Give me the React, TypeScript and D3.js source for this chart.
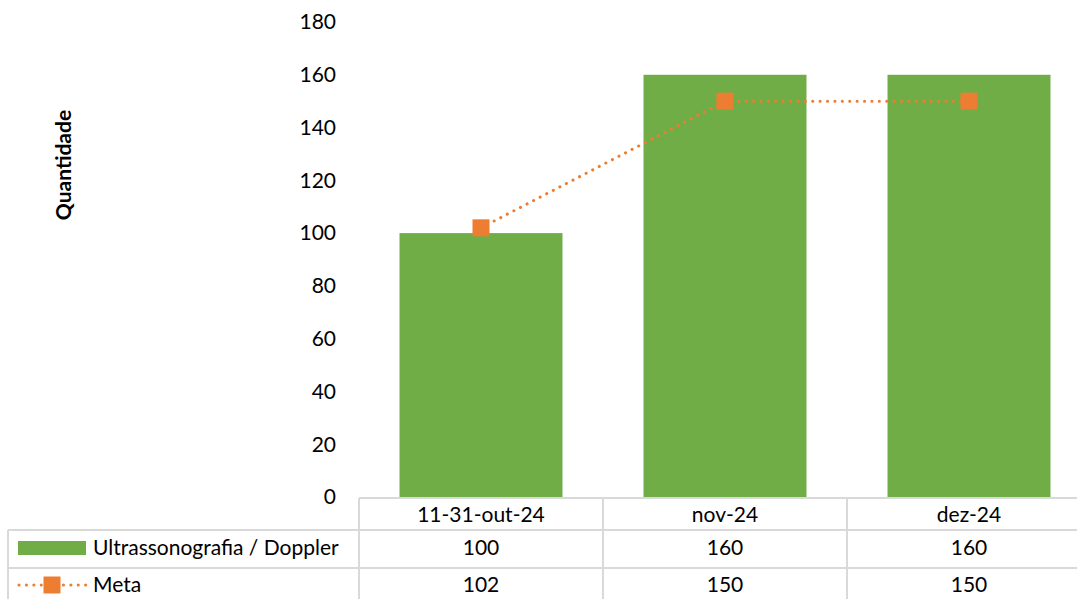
import React, { useRef, useEffect } from 'react';
import * as d3 from 'd3';

const categories = ['11-31-out-24', 'nov-24', 'dez-24'];
const ultrassonografia = [100, 160, 160];
const meta = [102, 150, 150];
const yTicks = [0, 20, 40, 60, 80, 100, 120, 140, 160, 180];
const seriesNames = ['Ultrassonografia / Doppler', 'Meta'];

const W = 1077;
const H = 599;
const FONT = 'Lato, "Open Sans", sans-serif';
const FS = 21;
const GREEN = '#70AD47';
const ORANGE = '#ED7D31';
const GRID = '#d9d9d9';

const App: React.FC = () => {
  const svgRef = useRef<SVGSVGElement>(null);

  useEffect(() => {
    if (!svgRef.current) return;
    const svg = d3.select(svgRef.current);
    svg.selectAll('*').remove();

    const plotLeft = 359;
    const step = 244;
    const plotTop = 22;
    const plotBottom = 497;

    const x = d3.scaleBand()
      .domain(categories)
      .range([plotLeft, plotLeft + step * categories.length])
      .padding(0);

    const y = d3.scaleLinear()
      .domain([0, 180])
      .range([plotBottom, plotTop]);

    const barW = x.bandwidth() * 0.668;

    // Bars
    svg.append('g')
      .selectAll('rect')
      .data(ultrassonografia)
      .enter().append('rect')
      .attr('x', (d, i) => (x(categories[i]) || 0) + (x.bandwidth() - barW) / 2)
      .attr('y', d => y(d))
      .attr('width', barW)
      .attr('height', d => plotBottom - y(d))
      .attr('fill', GREEN);

    // Meta line
    const cx = (i: number) => (x(categories[i]) || 0) + x.bandwidth() / 2;
    const line = d3.line<number>()
      .x((d, i) => cx(i))
      .y(d => y(d));

    svg.append('path')
      .datum(meta)
      .attr('d', line)
      .attr('fill', 'none')
      .attr('stroke', ORANGE)
      .attr('stroke-width', 3)
      .attr('stroke-linecap', 'round')
      .attr('stroke-dasharray', '0.1,7.3');

    svg.append('g')
      .selectAll('rect')
      .data(meta)
      .enter().append('rect')
      .attr('x', (d, i) => cx(i) - 8.5)
      .attr('y', d => y(d) - 8.5)
      .attr('width', 17)
      .attr('height', 17)
      .attr('fill', ORANGE);

    // Y axis labels
    svg.append('g')
      .selectAll('text')
      .data(yTicks)
      .enter().append('text')
      .attr('x', 336)
      .attr('y', d => y(d))
      .attr('dy', '0.35em')
      .attr('text-anchor', 'end')
      .attr('font-family', FONT)
      .attr('font-size', FS)
      .attr('fill', '#000')
      .text(d => d);

    // Y axis title
    svg.append('text')
      .attr('transform', `translate(64,165) rotate(-90)`)
      .attr('text-anchor', 'middle')
      .attr('dy', '0.35em')
      .attr('font-family', FONT)
      .attr('font-size', 21)
      .attr('font-weight', 'bold')
      .text('Quantidade');

    // Data table
    const rowLines = [530, 568];
    const tbl = svg.append('g')
      .attr('stroke', GRID)
      .attr('stroke-width', 2);

    tbl.append('line')
      .attr('x1', plotLeft).attr('x2', W)
      .attr('y1', 498).attr('y2', 498);
    rowLines.forEach(ry => {
      tbl.append('line')
        .attr('x1', 8).attr('x2', W)
        .attr('y1', ry).attr('y2', ry);
    });
    tbl.append('line')
      .attr('x1', 8).attr('x2', 8)
      .attr('y1', 530).attr('y2', H);
    categories.forEach(c => {
      const bx = x(c) || 0;
      tbl.append('line')
        .attr('x1', bx).attr('x2', bx)
        .attr('y1', 498).attr('y2', H);
    });

    const cellText = (tx: number, ty: number, t: string | number, anchor = 'middle') =>
      svg.append('text')
        .attr('x', tx)
        .attr('y', ty)
        .attr('dy', '0.35em')
        .attr('text-anchor', anchor)
        .attr('font-family', FONT)
        .attr('font-size', FS)
        .attr('fill', '#000')
        .text(t);

    categories.forEach((c, i) => {
      cellText(cx(i), 515, c);
      cellText(cx(i), 548, ultrassonografia[i]);
      cellText(cx(i), 585, meta[i]);
    });

    // Legend keys
    svg.append('rect')
      .attr('x', 18).attr('y', 541)
      .attr('width', 68).attr('height', 14)
      .attr('fill', GREEN);
    cellText(93, 548, seriesNames[0], 'start');

    svg.append('line')
      .attr('x1', 19).attr('x2', 86)
      .attr('y1', 585).attr('y2', 585)
      .attr('stroke', ORANGE)
      .attr('stroke-width', 3)
      .attr('stroke-linecap', 'round')
      .attr('stroke-dasharray', '0.1,7.3');
    svg.append('rect')
      .attr('x', 43.5).attr('y', 576.5)
      .attr('width', 17).attr('height', 17)
      .attr('fill', ORANGE);
    cellText(93, 585, seriesNames[1], 'start');
  }, []);

  return (
    <svg
      ref={svgRef}
      width={W}
      height={H}
      style={{ position: 'absolute', left: 0, top: 0, background: '#fff' }}
    />
  );
};

export default App;
